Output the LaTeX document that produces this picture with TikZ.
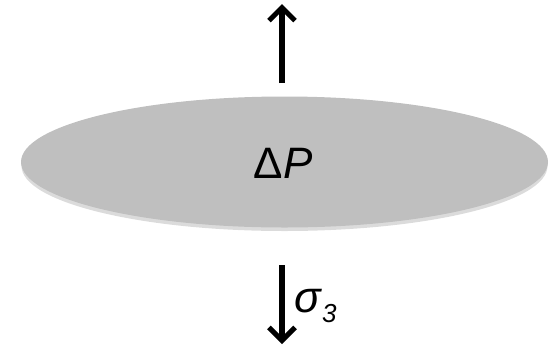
\documentclass[tikz,border=0pt]{standalone}
\usepackage{fontspec}
\setmainfont{Liberation Sans}
\usetikzlibrary{shapes.geometric, arrows.meta, positioning}

\begin{document}
\begin{tikzpicture}[
    x=1pt, y=-1pt,
    force/.style={-{Straight Barb[length=13pt, width=26pt, line width=5pt]}, line width=5.5pt},
    plate/.style={ellipse, fill=black!25, minimum width=527pt, minimum height=131pt, inner sep=0pt},
    sym/.style={font=\fontsize{44}{44}\selectfont},
]
\useasboundingbox (0,0) rectangle (558,349);

% shadow + disc
\fill[black!40, opacity=0.35] (284.5,166) ellipse (263pt and 65pt);
\node[plate] (disc) at (284.5,162) {};
\node[sym] (dp) at (283,163) {Δ\textit{P}};

% forces
\coordinate (upfoot) at (282,83);
\coordinate (uptip) at (282,4);
\coordinate (dnfoot) at (282,265);
\coordinate (dntip) at (282,344);
\draw[force] (upfoot) -- (uptip);
\draw[force] (dnfoot) -- (dntip);

\node[sym, anchor=base west, inner sep=0pt] (sig) at (294,312) {\textit{σ}\raisebox{-10pt}{\fontsize{26}{26}\selectfont\textit{3}}};
\end{tikzpicture}
\end{document}
